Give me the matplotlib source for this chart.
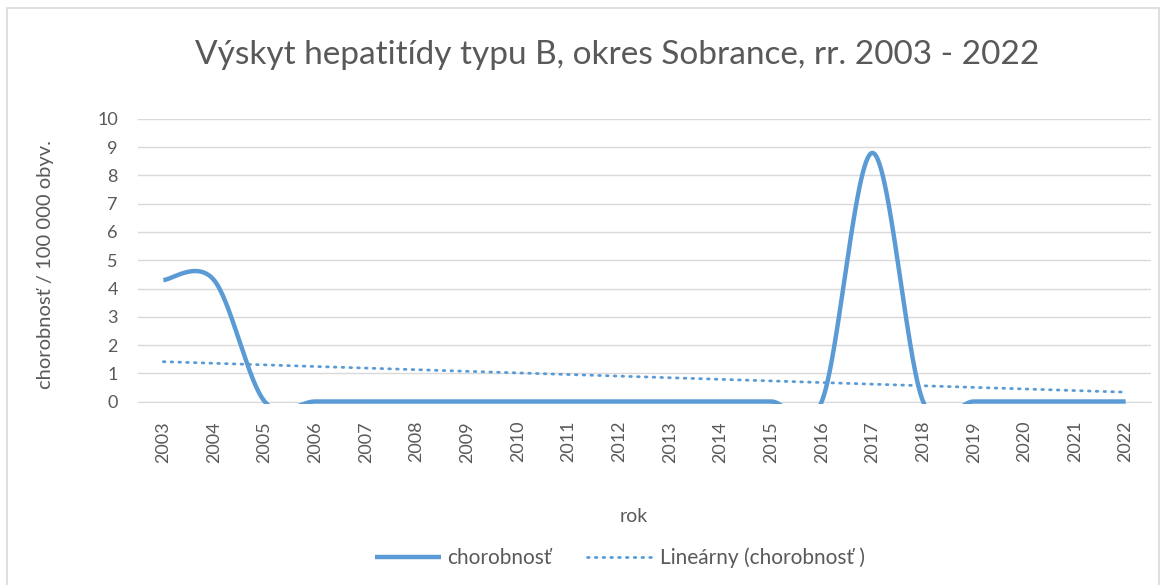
import numpy as np
import matplotlib
matplotlib.use('Agg')
import matplotlib.pyplot as plt
from matplotlib.patches import Rectangle
from matplotlib.transforms import Bbox, TransformedBbox

plt.rcParams['font.family'] = ['Lato', 'DejaVu Sans']

roky = list(range(2003, 2023))
chorobnost = [4.3, 4.3, 0, 0, 0, 0, 0, 0, 0, 0, 0, 0, 0, 0, 8.8, 0, 0, 0, 0, 0]

title = "Výskyt hepatitídy typu B, okres Sobrance, rr. 2003 - 2022"
ylabel = "chorobnosť / 100 000 obyv."
xlabel = "rok"

blue = '#5B9BD5'
grey_txt = '#595959'


def smooth(xs, ys, n=60):
    # excel-like smoothed line (catmull-rom as bezier)
    xs = np.asarray(xs, float)
    ys = np.asarray(ys, float)
    px = np.concatenate([[xs[0]], xs, [xs[-1]]])
    py = np.concatenate([[ys[0]], ys, [ys[-1]]])
    outx, outy = [], []
    t = np.linspace(0, 1, n)
    for i in range(1, len(px) - 2):
        x0, x1, x2, x3 = px[i - 1:i + 3]
        y0, y1, y2, y3 = py[i - 1:i + 3]
        c1x, c1y = x1 + (x2 - x0) / 6, y1 + (y2 - y0) / 6
        c2x, c2y = x2 - (x3 - x1) / 6, y2 - (y3 - y1) / 6
        bx = (1-t)**3*x1 + 3*(1-t)**2*t*c1x + 3*(1-t)*t**2*c2x + t**3*x2
        by = (1-t)**3*y1 + 3*(1-t)**2*t*c1y + 3*(1-t)*t**2*c2y + t**3*y2
        outx.extend(bx)
        outy.extend(by)
    return np.array(outx), np.array(outy)


fig = plt.figure(figsize=(11.65, 5.85), dpi=100)
fig.patches.append(Rectangle((7/1165, -0.01), (1159-7)/1165, 1 - 8/585 + 0.01,
                             transform=fig.transFigure, fill=False,
                             edgecolor='#D9D9D9', lw=1.2))
ax = fig.add_axes([138/1165, 1 - 401.5/585, (1151-138)/1165, (401.5-119)/585])

sx, sy = smooth(roky, chorobnost)
line, = ax.plot(sx, sy, color=blue, lw=3.2, solid_capstyle='butt',
                label='chorobnosť', zorder=3)
# plot area clips the curve a little below the zero line
line.set_clip_box(TransformedBbox(Bbox([[2002.5, -0.08], [2022.5, 10.5]]),
                                  ax.transData))

k, q = np.polyfit(roky, chorobnost, 1)
trend = [k * r + q for r in roky]
ax.plot(roky, trend, color=blue, lw=2, linestyle=(0, (0.6, 2.2)),
        dash_capstyle='round', label='Lineárny (chorobnosť )', zorder=3)

ax.set_xlim(2002.5, 2022.5)
ax.set_ylim(0, 10)
ax.set_yticks(range(0, 11))
ax.set_xticks(roky)
ax.set_xticklabels([str(r) for r in roky], rotation=90)
ax.grid(axis='y', color='#D9D9D9', lw=1)
ax.set_axisbelow(True)
for s in ['top', 'right', 'left']:
    ax.spines[s].set_visible(False)
ax.spines['bottom'].set_color('#D9D9D9')
ax.tick_params(axis='both', length=0, labelsize=13, colors=grey_txt)
ax.tick_params(axis='x', pad=14)
ax.tick_params(axis='y', pad=14.5)

fig.text(617/1165, 1 - 55/585, title, ha='center', va='center',
         fontsize=24, color=grey_txt)
fig.text(45/1165, 1 - 265/585, ylabel, ha='center', va='center',
         rotation=90, fontsize=14.5, color=grey_txt)
fig.text(634/1165, 1 - 517/585, xlabel, ha='center', va='center',
         fontsize=14, color=grey_txt)

fig.legend(loc='center', bbox_to_anchor=(620/1165, 1 - 558/585), ncol=2,
           frameon=False, fontsize=15, labelcolor=grey_txt,
           handlelength=3.2, columnspacing=1.7, handletextpad=0.3)

fig.savefig('out.png', dpi=100)
